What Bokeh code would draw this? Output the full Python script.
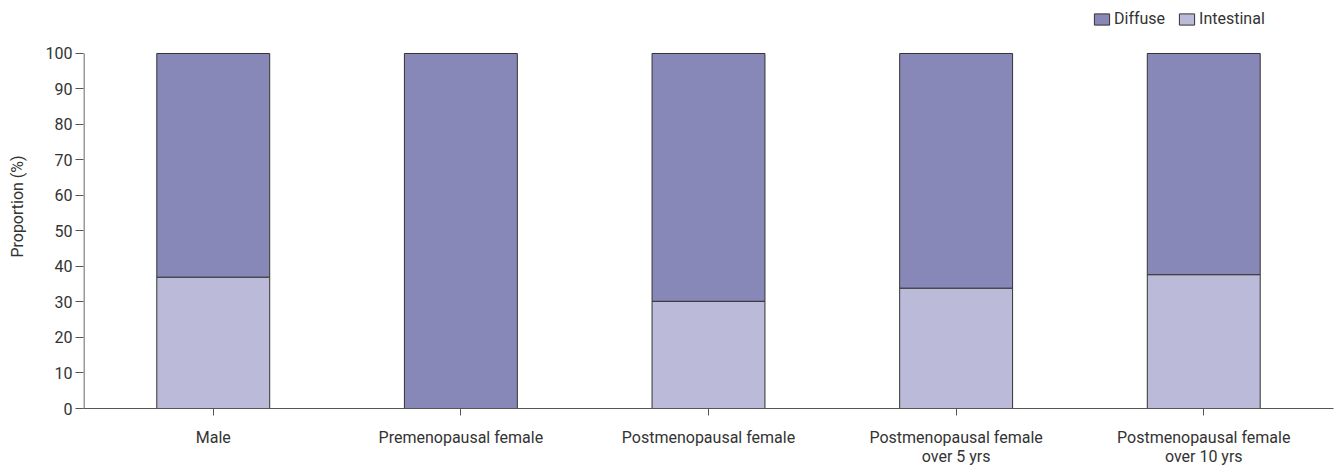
from bokeh.plotting import figure
from bokeh.models import ColumnDataSource, Legend, LegendItem, FactorRange
from bokeh.embed import file_html
from bokeh.resources import INLINE

categories = ["Male", "Premenopausal female", "Postmenopausal female",
              "Postmenopausal female\nover 5 yrs", "Postmenopausal female\nover 10 yrs"]
intestinal = [37.0, 0.0, 30.2, 33.9, 37.7]
diffuse = [100 - v for v in intestinal]
y_ticks = [0, 10, 20, 30, 40, 50, 60, 70, 80, 90, 100]

FONT = "Roboto"
TXT = "#333333"
AX = "#555555"
C_DIFF = "#8888b8"
C_INT = "#bbbbd9"

src = ColumnDataSource(dict(cat=categories, intestinal=intestinal, diffuse=diffuse))

PAD = 0.024
p = figure(width=1334, height=468,
           x_range=FactorRange(*categories, range_padding=PAD, range_padding_units="absolute"),
           y_range=(0, 113.8), output_backend="svg", toolbar_location=None,
           min_border_left=83, min_border_right=1, min_border_top=4, min_border_bottom=53)

r_int, r_diff = p.vbar_stack(["intestinal", "diffuse"], x="cat", width=0.456, source=src,
                             color=[C_INT, C_DIFF], line_color="#333333", line_width=1)

# y axis line only from 0 to 100 (frame extends higher to host the legend)
p.segment(x0=[-PAD + 0.002], y0=[0], x1=[-PAD + 0.002], y1=[100], line_color=AX, line_width=1.2)

p.xgrid.visible = False
p.ygrid.visible = False
p.outline_line_color = None

p.yaxis.ticker = y_ticks
p.yaxis.axis_label = "Proportion (%)"
p.yaxis.axis_label_text_font = FONT
p.yaxis.axis_label_text_font_style = "normal"
p.yaxis.axis_label_text_font_size = "16px"
p.yaxis.axis_label_text_color = TXT
p.yaxis.axis_label_standoff = 16
for ax in (p.xaxis, p.yaxis):
    ax.major_label_text_font = FONT
    ax.major_label_text_font_size = "16px"
    ax.major_label_text_color = TXT
    ax.axis_line_color = AX
    ax.major_tick_line_color = AX
    ax.major_tick_out = 8
    ax.major_tick_in = 0
    ax.minor_tick_line_color = None
p.xaxis.major_tick_out = 7
p.yaxis.axis_line_color = None
p.xaxis.major_label_standoff = 12
p.xaxis.major_label_text_line_height = 1.0
p.yaxis.major_label_standoff = 3

legend = Legend(items=[LegendItem(label="Diffuse", renderers=[r_diff]),
                       LegendItem(label="Intestinal", renderers=[r_int])],
                orientation="horizontal", location=(1009, 380),
                label_text_font=FONT, label_text_font_size="16px", label_text_color=TXT,
                glyph_width=19, glyph_height=14, spacing=12, label_standoff=3,
                padding=0, margin=0, border_line_color=None, background_fill_alpha=0)
p.add_layout(legend, "center")

open("out.html", "w").write(file_html(p, INLINE))
